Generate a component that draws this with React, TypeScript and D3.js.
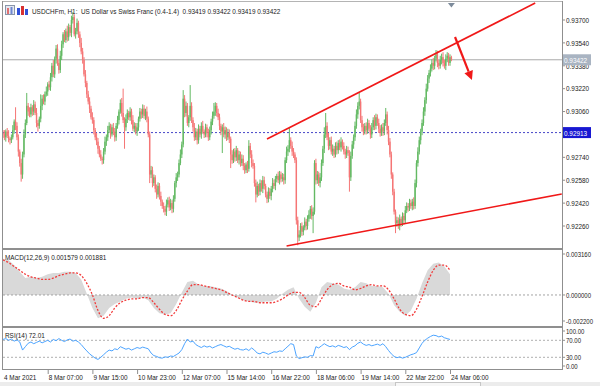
import React, { useEffect, useRef } from "react";
import * as d3 from "d3";

// USDCHF H1 bars, prices in points above 0.92000 (913 -> 0.92913)
const closes = [
  900, 880, 920, 890, 870, 860, 880, 930, 990, 960, 880, 780, 700, 620, 760, 900, 980, 1100, 1060, 1040,
  1090, 1060, 1110, 1050, 980, 960, 1010, 1100, 1150, 1130, 1180, 1200, 1250, 1230, 1300, 1380, 1320, 1430, 1500, 1400,
  1350, 1450, 1530, 1600, 1560, 1620, 1580, 1650, 1610, 1700, 1720, 1600, 1620, 1680, 1600, 1540, 1480, 1420, 1320, 1260,
  1180, 1130, 1080, 1020, 1000, 930, 880, 850, 800, 760, 730, 720, 780, 850, 880, 930, 960, 900, 950, 920,
  880, 960, 1000, 1060, 1120, 1050, 1000, 950, 1010, 1050, 1020, 1060, 1000, 940, 960, 920, 950, 1010, 1060, 1040,
  1080, 1030, 1060, 1010, 900, 620, 650, 560, 600, 520, 480, 540, 470, 430, 400, 380, 360, 410, 440, 390,
  420, 380, 450, 560, 600, 620, 700, 760, 830, 1150, 1050, 1100, 980, 1020, 1100, 1000, 950, 880, 920, 860,
  940, 900, 960, 920, 900, 950, 910, 880, 930, 990, 1030, 1060, 1100, 1050, 1020, 960, 920, 950, 900, 930,
  880, 910, 870, 760, 720, 780, 740, 790, 720, 760, 700, 730, 680, 650, 690, 660, 820, 760, 700, 680,
  560, 480, 540, 500, 560, 520, 580, 540, 480, 450, 500, 470, 520, 560, 540, 590, 610, 580, 620, 590,
  600, 580, 720, 780, 800, 860, 820, 780, 760, 720, 300, 180, 200, 260, 220, 250, 290, 260, 310, 340,
  380, 330, 360, 700, 580, 620, 560, 600, 700, 800, 900, 960, 880, 820, 860, 780, 800, 760, 820, 790,
  840, 810, 850, 820, 780, 760, 790, 770, 600, 750, 830, 880, 960, 1040, 1100, 1130, 1000, 950, 920, 960,
  930, 980, 940, 900, 950, 1000, 960, 1020, 980, 940, 910, 950, 920, 980, 1040, 930, 850, 760, 620, 500,
  360, 280, 300, 260, 310, 280, 330, 300, 370, 400, 390, 420, 400, 430, 400, 560, 700, 780, 860, 920,
  980, 1060, 1140, 1220, 1290, 1330, 1360, 1400, 1380, 1430, 1460, 1400, 1380, 1420, 1440, 1400, 1380, 1430, 1450, 1400,
  1440, 1422,
];
const firstOpen = 910;

const upWick = [
  20, 30, 15, 25, 40, 10, 20, 35, 15, 100, 25, 20, 15, 30, 20, 35, 25, 90, 20, 30,
  25, 15, 30, 20, 35, 20, 15, 80, 25, 30, 20, 35, 15, 25, 30, 20, 40, 15, 25, 30,
  20, 35, 25, 15, 30, 20, 40, 25, 15, 30, 35, 20, 25, 30, 15, 20, 35, 25, 20, 30,
  15, 25, 30, 20, 35, 20, 15, 30, 25, 20, 30, 15, 25, 35, 20, 30, 25, 15, 20, 30,
  25, 20, 30, 15, 25, 35, 170, 20, 30, 25, 15, 30, 20, 35, 25, 20, 30, 15, 25, 20,
  30, 25, 20, 35, 15, 20, 30, 25, 20, 15, 30, 25, 20, 30, 15, 25, 20, 35, 20, 25,
  30, 20, 25, 15, 30, 20, 25, 35, 20, 60, 25, 30, 20, 15, 145, 25, 20, 30, 25, 20,
  30, 20, 25, 35, 15, 25, 20, 30, 25, 20, 30, 60, 25, 20, 30, 25, 15, 20, 30, 25,
  20, 30, 25, 15, 30, 20, 25, 30, 15, 25, 20, 30, 25, 20, 15, 25, 40, 20, 30, 25,
  20, 25, 30, 15, 25, 20, 30, 25, 15, 20, 30, 25, 20, 35, 25, 20, 15, 30, 25, 20,
  30, 25, 20, 35, 25, 85, 20, 30, 25, 15, 20, 25, 30, 20, 25, 15, 30, 20, 25, 30,
  20, 25, 30, 20, 30, 25, 20, 30, 25, 20, 50, 90, 25, 30, 20, 25, 30, 20, 25, 30,
  20, 25, 30, 15, 25, 20, 30, 25, 20, 30, 25, 20, 30, 35, 25, 60, 20, 30, 25, 20,
  25, 30, 20, 25, 30, 20, 35, 25, 20, 30, 25, 20, 30, 25, 45, 20, 30, 25, 20, 15,
  20, 15, 25, 20, 30, 15, 25, 20, 30, 25, 20, 30, 25, 20, 30, 25, 20, 30, 25, 20,
  25, 30, 20, 35, 25, 20, 30, 25, 35, 20, 30, 25, 20, 30, 25, 35, 20, 30, 25, 20,
  20, 10,
];
const downWick = [
  25, 20, 30, 15, 25, 30, 20, 15, 25, 30, 20, 35, 25, 50, 30, 20, 25, 15, 30, 20,
  20, 30, 25, 15, 30, 40, 20, 25, 30, 20, 25, 15, 30, 20, 25, 30, 20, 25, 35, 20,
  25, 20, 30, 25, 15, 20, 30, 25, 20, 30, 25, 15, 30, 20, 25, 30, 20, 25, 15, 30,
  25, 20, 30, 15, 25, 30, 20, 25, 35, 20, 15, 30, 25, 20, 30, 25, 20, 30, 15, 25,
  30, 25, 20, 30, 15, 25, 20, 150, 25, 30, 20, 25, 30, 15, 25, 20, 30, 25, 20, 30,
  25, 20, 30, 25, 20, 60, 25, 30, 20, 25, 30, 20, 25, 30, 20, 25, 25, 30, 20, 25,
  20, 30, 25, 20, 30, 25, 20, 15, 25, 20, 30, 25, 20, 30, 25, 20, 30, 25, 20, 30,
  25, 20, 30, 15, 25, 20, 30, 25, 20, 30, 25, 20, 30, 25, 20, 30, 25, 150, 20, 30,
  25, 20, 30, 95, 25, 20, 30, 25, 20, 30, 25, 20, 30, 25, 20, 30, 20, 25, 30, 20,
  25, 55, 20, 30, 25, 20, 30, 25, 20, 30, 25, 20, 30, 25, 20, 30, 25, 20, 30, 25,
  20, 30, 25, 20, 30, 25, 20, 30, 25, 20, 30, 55, 25, 20, 30, 25, 20, 30, 25, 20,
  30, 25, 120, 20, 30, 25, 20, 30, 25, 20, 30, 25, 20, 30, 25, 20, 30, 25, 20, 30,
  25, 20, 30, 25, 20, 30, 25, 20, 100, 25, 20, 30, 25, 20, 30, 25, 20, 30, 25, 20,
  30, 25, 20, 30, 25, 20, 30, 25, 20, 30, 25, 20, 30, 25, 20, 30, 25, 20, 30, 25,
  20, 70, 25, 20, 30, 25, 20, 30, 25, 20, 30, 25, 20, 30, 25, 20, 30, 25, 20, 30,
  25, 20, 30, 25, 20, 30, 25, 20, 30, 25, 20, 30, 25, 20, 30, 25, 20, 30, 25, 20,
  20, 10,
];

// 0.92900 is covered by the level tag, so only its tick mark shows
const priceTicks = [0.9226, 0.9242, 0.9258, 0.9274, 0.929, 0.9306, 0.9322, 0.9338, 0.9354, 0.937];
const hiddenTick = 0.929;
const timeTicks = [0, 32, 64, 96, 128, 160, 192, 224, 256, 288, 320];
const timeLabels = [
  "4 Mar 2021", "8 Mar 07:00", "9 Mar 15:00", "10 Mar 23:00", "12 Mar 07:00", "15 Mar 14:00",
  "16 Mar 22:00", "18 Mar 06:00", "19 Mar 14:00", "22 Mar 22:00", "24 Mar 06:00",
];

// MACD(12,26,9): one value every 4 bars
const macdHist = [
  0.0028, 0.0027, 0.0023, 0.0018, 0.0013, 0.0014, 0.0013, 0.0014, 0.0016, 0.0017,
  0.0017, 0.0018, 0.0018, 0.0017, 0.0012, 0.0001, -0.001, -0.0018, -0.0016, -0.001,
  -0.0007, -0.0005, -0.0003, -0.0002, -0.0003, -0.0002, -0.0004, -0.001, -0.0014, -0.0015,
  -0.0014, -0.0007, 0.0002, 0.001, 0.0011, 0.0008, 0.0007, 0.0007, 0.0006, 0.0005,
  0.0003, 0.0, -0.0002, -0.0004, -0.0005, -0.0006, -0.0006, -0.0005, -0.0005, -0.0003,
  0.0001, 0.0004, 0.0006, -0.0003, -0.0009, -0.0013, -0.0006, 0.0006, 0.001, 0.0009,
  0.0008, 0.0005, 0.0004, 0.0006, 0.001, 0.0009, 0.0007, 0.0007, 0.0006, 0.0001,
  -0.0008, -0.0013, -0.0016, -0.0012, -0.0003, 0.0009, 0.0019, 0.0024, 0.0025, 0.0022,
  0.0016,
];
const macdSignal = [
  0.0027, 0.0025, 0.0022, 0.0019, 0.0016, 0.0014, 0.0013, 0.0012, 0.0012, 0.0013,
  0.0015, 0.0016, 0.0017, 0.0017, 0.0015, 0.0009, 0.0, -0.0012, -0.0018, -0.0016,
  -0.001, -0.0006, -0.0004, -0.0003, -0.0003, -0.0002, -0.0002, -0.0006, -0.0011, -0.0015,
  -0.0016, -0.0012, -0.0004, 0.0003, 0.0008, 0.0008, 0.0007, 0.0006, 0.0005, 0.0004,
  0.0002, 0.0, -0.0002, -0.0004, -0.0005, -0.0005, -0.0006, -0.0006, -0.0006, -0.0005,
  -0.0003, 0.0, 0.0002, 0.0002, -0.0002, -0.0008, -0.0009, -0.0003, 0.0004, 0.0008,
  0.0009, 0.0007, 0.0006, 0.0004, 0.0005, 0.0007, 0.0008, 0.0007, 0.0007, 0.0004,
  -0.0003, -0.0011, -0.0015, -0.0016, -0.0011, -0.0001, 0.001, 0.0019, 0.0023, 0.0023,
  0.0019,
];

// RSI(14): one value every 2 bars
const rsi = [
  72, 74, 70, 73, 68, 71, 66, 47, 55, 63, 66, 62, 65, 68, 64, 67, 70, 66, 72, 69,
  74, 70, 67, 71, 73, 68, 70, 66, 60, 52, 45, 38, 33, 28, 25, 30, 36, 42, 47, 45,
  50, 48, 55, 52, 49, 51, 47, 50, 53, 51, 54, 52, 50, 40, 34, 32, 29, 28, 31, 30,
  33, 32, 36, 40, 48, 62, 73, 66, 68, 60, 56, 53, 57, 54, 56, 52, 55, 58, 60, 57,
  54, 56, 52, 49, 51, 48, 47, 50, 46, 52, 47, 40, 38, 42, 40, 37, 40, 43, 42, 45,
  44, 50, 56, 62, 60, 33, 27, 29, 31, 30, 34, 33, 55, 52, 57, 62, 58, 55, 57, 54,
  58, 56, 53, 55, 48, 54, 57, 63, 66, 61, 58, 60, 57, 59, 61, 58, 62, 55, 46, 38,
  32, 29, 31, 28, 30, 33, 36, 38, 41, 52, 63, 70, 75, 79, 82, 81, 78, 80, 76, 74,
  72,
];

const lastPrice = 0.93422;
const levelPrice = 0.92913;
// drawn objects: [bar index, price]
const upperTrend = [[189, 0.92868], [381, 0.93819]];
const lowerTrend = [[203, 0.9212], [400, 0.92484]];
const arrowLine = [[323.6, 0.93581], [335.7, 0.93281]];

const bull = "#63b963";
const bear = "#f57575";
const frame = "#8f8f8f";
const font = "'Liberation Sans', Arial, sans-serif";

export default function App() {
  const ref = useRef<SVGSVGElement>(null);

  useEffect(() => {
    if (!ref.current) return;
    const svg = d3.select(ref.current);
    svg.selectAll("*").remove();

    const left = 3;
    const right = 562;
    const x = d3.scaleLinear().domain([0, 320]).range([3, 450]);
    const y = d3.scaleLinear().domain([0.9226, 0.937]).range([226, 20]);
    const ym = d3.scaleLinear().domain([-0.0022, 0.00316]).range([323.5, 254]);
    const yr = d3.scaleLinear().domain([30, 70]).range([357.3, 340.3]);
    const toPrice = (p: number) => 0.92 + p / 1e5;

    const text = (g: any, tx: number, ty: number, s: string, size = 8, fill = "#222") =>
      g.append("text")
        .attr("transform", `translate(${tx},${ty}) scale(0.8,1)`)
        .attr("font-family", font)
        .attr("font-size", size)
        .attr("fill", fill)
        .style("white-space", "pre")
        .text(s);

    svg.append("rect").attr("width", 600).attr("height", 386).attr("fill", "#fff");
    svg.append("rect").attr("x", 0).attr("y", 382).attr("width", 600).attr("height", 4).attr("fill", "#ececec");
    svg.append("rect").attr("x", 395.5).attr("y", 382.5).attr("width", 85).attr("height", 6)
      .attr("fill", "#f7f7f7").attr("stroke", "#c6c6c6");

    const defs = svg.append("defs");
    defs.append("clipPath").attr("id", "mainClip").append("rect")
      .attr("x", left).attr("y", 2).attr("width", right - left).attr("height", 246);

    // horizontal price lines
    svg.append("line").attr("x1", left).attr("x2", right)
      .attr("y1", y(lastPrice)).attr("y2", y(lastPrice))
      .attr("stroke", "#a9a9a9").attr("stroke-width", 1);
    svg.append("line").attr("x1", left).attr("x2", right)
      .attr("y1", y(levelPrice)).attr("y2", y(levelPrice))
      .attr("stroke", "#4646c8").attr("stroke-width", 1).attr("stroke-dasharray", "2,2");

    // candles
    const bars = closes.map((c, i) => {
      const o = i === 0 ? firstOpen : closes[i - 1];
      return { i, o, c, h: Math.max(o, c) + upWick[i], l: Math.min(o, c) - downWick[i] };
    });
    const cg = svg.append("g").attr("clip-path", "url(#mainClip)");
    cg.selectAll("line.wick").data(bars).join("line")
      .attr("x1", d => x(d.i)).attr("x2", d => x(d.i))
      .attr("y1", d => y(toPrice(d.h))).attr("y2", d => y(toPrice(d.l)))
      .attr("stroke", d => (d.c >= d.o ? bull : bear))
      .attr("stroke-width", 1);
    cg.selectAll("rect.body").data(bars).join("rect")
      .attr("x", d => x(d.i) - 0.7).attr("width", 1.4)
      .attr("y", d => y(toPrice(Math.max(d.o, d.c))))
      .attr("height", d => Math.max(1, y(toPrice(Math.min(d.o, d.c))) - y(toPrice(Math.max(d.o, d.c)))))
      .attr("fill", d => (d.c >= d.o ? bull : bear));

    // trend lines and arrow
    const tl = d3.line<number[]>().x(d => x(d[0])).y(d => y(d[1]));
    [upperTrend, lowerTrend].forEach(t => {
      cg.append("path").attr("d", tl(t)).attr("fill", "none")
        .attr("stroke", "#f01818").attr("stroke-width", 1.6);
    });
    const [a0, a1] = arrowLine.map(d => [x(d[0]), y(d[1])]);
    const ang = Math.atan2(a1[1] - a0[1], a1[0] - a0[0]);
    const headLen = 9, headW = 4.5;
    const base = [a1[0] - headLen * Math.cos(ang), a1[1] - headLen * Math.sin(ang)];
    cg.append("line").attr("x1", a0[0]).attr("y1", a0[1]).attr("x2", base[0]).attr("y2", base[1])
      .attr("stroke", "#f01818").attr("stroke-width", 2.2);
    cg.append("polygon")
      .attr("points", [
        a1,
        [base[0] + headW * Math.sin(ang), base[1] - headW * Math.cos(ang)],
        [base[0] - headW * Math.sin(ang), base[1] + headW * Math.cos(ang)],
      ].map(p => p.join(",")).join(" "))
      .attr("fill", "#f01818");

    // shift marker
    const sx = x(closes.length - 1);
    svg.append("polygon").attr("points", `${sx - 3.5},3 ${sx + 3.5},3 ${sx},7.5`).attr("fill", "#7d8b9b");

    // MACD
    const area = d3.area<number>().x((d, k) => x(k * 4)).y0(ym(0)).y1(d => ym(d));
    svg.append("path").attr("d", area(macdHist)).attr("fill", "#d9d9d9");
    svg.append("line").attr("x1", left).attr("x2", right).attr("y1", ym(0)).attr("y2", ym(0))
      .attr("stroke", "#a3a3a3").attr("stroke-dasharray", "2,2");
    const sig = d3.line<number>().x((d, k) => x(k * 4)).y(d => ym(d)).curve(d3.curveMonotoneX);
    svg.append("path").attr("d", sig(macdSignal)).attr("fill", "none")
      .attr("stroke", "#f23a3a").attr("stroke-width", 1.3).attr("stroke-dasharray", "2,1.6");

    // RSI
    [70, 30].forEach(v => {
      svg.append("line").attr("x1", left).attr("x2", right).attr("y1", yr(v)).attr("y2", yr(v))
        .attr("stroke", "#b0b0b0").attr("stroke-dasharray", "2,2");
    });
    const rl = d3.line<number>().x((d, k) => x(k * 2)).y(d => yr(d));
    svg.append("path").attr("d", rl(rsi)).attr("fill", "none")
      .attr("stroke", "#4ca4ff").attr("stroke-width", 1);

    // frames
    const fr = svg.append("g").attr("stroke", frame).attr("fill", "none");
    fr.append("line").attr("x1", 2).attr("x2", right + 1).attr("y1", 1.5).attr("y2", 1.5).attr("stroke", "#b4b4b4");
    fr.append("line").attr("x1", 2.5).attr("x2", 2.5).attr("y1", 1).attr("y2", 370);
    fr.append("line").attr("x1", right + 0.5).attr("x2", right + 0.5).attr("y1", 1).attr("y2", 370);
    [249, 327].forEach(sy => {
      fr.append("line").attr("x1", 2).attr("x2", right + 1).attr("y1", sy).attr("y2", sy).attr("stroke-width", 2);
    });
    fr.append("line").attr("x1", 2).attr("x2", right + 1).attr("y1", 369.5).attr("y2", 369.5);

    // price axis
    const ax = svg.append("g");
    priceTicks.forEach(p => {
      ax.append("line").attr("x1", right).attr("x2", right + 3).attr("y1", y(p)).attr("y2", y(p)).attr("stroke", frame);
      if (p !== hiddenTick) text(ax, right + 4, y(p) + 2.8, p.toFixed(5));
    });
    const tag = (p: number, bg: string) => {
      ax.append("rect").attr("x", right + 1).attr("y", y(p) - 5.5).attr("width", 28).attr("height", 11).attr("fill", bg);
      text(ax, right + 2, y(p) + 3, p.toFixed(5), 8, "#fff");
    };
    tag(lastPrice, "#a9b4c2");
    tag(levelPrice, "#1818d2");

    [0.00316, 0, -0.0022].forEach(v => {
      const ty = Math.min(ym(v), 321);
      ax.append("line").attr("x1", right).attr("x2", right + 3).attr("y1", ty).attr("y2", ty).attr("stroke", frame);
      text(ax, right + 4, ty + 2.8, v.toFixed(6), 7.5);
    });
    [100, 70, 30, 0].forEach(v => {
      const ty = Math.max(331, Math.min(366, yr(v)));
      ax.append("line").attr("x1", right).attr("x2", right + 3).attr("y1", ty).attr("y2", ty).attr("stroke", frame);
      text(ax, right + 4, ty + 2.8, v.toFixed(2), 7.5);
    });

    // time axis
    timeTicks.forEach((t, k) => {
      if (k > 0) {
        ax.append("line").attr("x1", x(t) + 0.5).attr("x2", x(t) + 0.5).attr("y1", 370).attr("y2", 374).attr("stroke", frame);
      }
      text(ax, x(t) + 1, 379.5, timeLabels[k]);
    });

    // panel captions
    text(svg, 5, 259.5, "MACD(12,26,9) 0.001579 0.001881");
    text(svg, 5, 337.5, "RSI(14) 72.01");

    // title with symbol icons
    const ic = svg.append("g");
    ic.append("rect").attr("x", 5.5).attr("y", 5.5).attr("width", 9).attr("height", 9).attr("fill", "#e4e8f0").attr("stroke", "#8a96aa");
    ic.append("rect").attr("x", 7).attr("y", 8).attr("width", 2).attr("height", 6).attr("fill", "#e07070");
    ic.append("rect").attr("x", 10.5).attr("y", 7).attr("width", 2).attr("height", 7).attr("fill", "#7088d0");
    ic.append("rect").attr("x", 17).attr("y", 8).attr("width", 3).attr("height", 7).attr("fill", "#3050d8");
    ic.append("rect").attr("x", 21).attr("y", 6).attr("width", 3).attr("height", 9).attr("fill", "#d83030");
    ic.append("rect").attr("x", 25).attr("y", 9).attr("width", 3).attr("height", 6).attr("fill", "#3050d8");
    text(svg, 32, 14, "USDCHFm, H1:  US Dollar vs Swiss Franc (0.4-1.4)  0.93419 0.93422 0.93419 0.93422");
  }, []);

  return (
    <svg
      ref={ref}
      width="600"
      height="386"
      style={{ position: "absolute", left: 0, top: 0, display: "block" }}
    ></svg>
  );
}
